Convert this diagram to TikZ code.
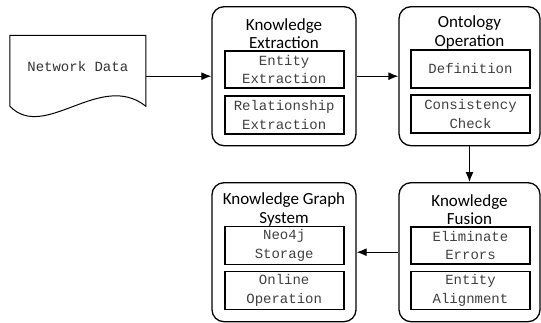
\documentclass[tikz,border=0pt]{standalone}
\usepackage{fontspec}
\usetikzlibrary{arrows.meta}
\newfontfamily\titlefont{Carlito}
\newfontfamily\boxfont{Liberation Mono}

\tikzset{
  stage/.style={draw, line width=1.3pt, rounded corners=12pt, minimum width=#1, minimum height=139pt},
  stage/.default=144pt,
  task/.style={draw, line width=1.8pt, minimum width=119pt, minimum height=37.6pt, align=center,
    text=black!75, font=\boxfont\fontsize{14}{18.3}\selectfont},
  head/.style={align=center, font=\titlefont\fontsize{17}{18.5}\selectfont},
  arr/.style={line width=1.2pt, -{Latex[length=10pt,width=8pt]}}
}

\begin{document}
\begin{tikzpicture}[x=1pt, y=-1pt]
\useasboundingbox (0,0) rectangle (541,323);

% source document
\node[minimum width=135.6pt, minimum height=70.3pt, inner sep=0pt] (data) at (77.8,70.85) {};
\draw[line width=1pt] (data.south west) -- (data.north west) -- (data.north east) -- (data.south east)
  .. controls +(-45.6,-36) and +(35,36) .. (data.south west);
\node[text=black!80, font=\boxfont\fontsize{14}{18.3}\selectfont] (datatext) at (77.8,66.7) {Network Data};

% stages
\node[stage] (ext) at (284,76.2) {};
\node[stage=141pt] (onto) at (469.5,76.2) {};
\node[stage] (kgs) at (284,252.2) {};
\node[stage=141pt] (fus) at (469.5,252.2) {};

\node[head] (exthead) at (284,33.5) {Knowledge\\Extraction};
\node[head] (ontohead) at (469.5,32.5) {Ontology\\Operation};
\node[head] (kgshead) at (284,209.5) {Knowledge Graph\\System};
\node[head] (fushead) at (469.5,209.5) {Knowledge\\Fusion};

\node[task] (entity) at (284.2,69.5) {Entity\\Extraction};
\node[task] (rel) at (284.2,114.9) {Relationship\\Extraction};
\node[task] (def) at (470.5,68.9) {Definition};
\node[task] (cons) at (470.5,113.9) {Consistency\\Check};
\node[task] (neo) at (284.2,245.5) {Neo4j\\Storage};
\node[task] (online) at (284.2,290.5) {Online\\Operation};
\node[task] (elim) at (470.5,245.5) {Eliminate\\Errors};
\node[task] (align) at (470.5,290.5) {Entity\\Alignment};

% flow
\draw[arr] (data.east |- ext.west) -- (ext.west);
\draw[arr] (ext.east) -- (onto.west);
\draw[arr] (onto.south) -- (fus.north);
\draw[arr] (fus.west) -- (kgs.east);
\end{tikzpicture}
\end{document}
